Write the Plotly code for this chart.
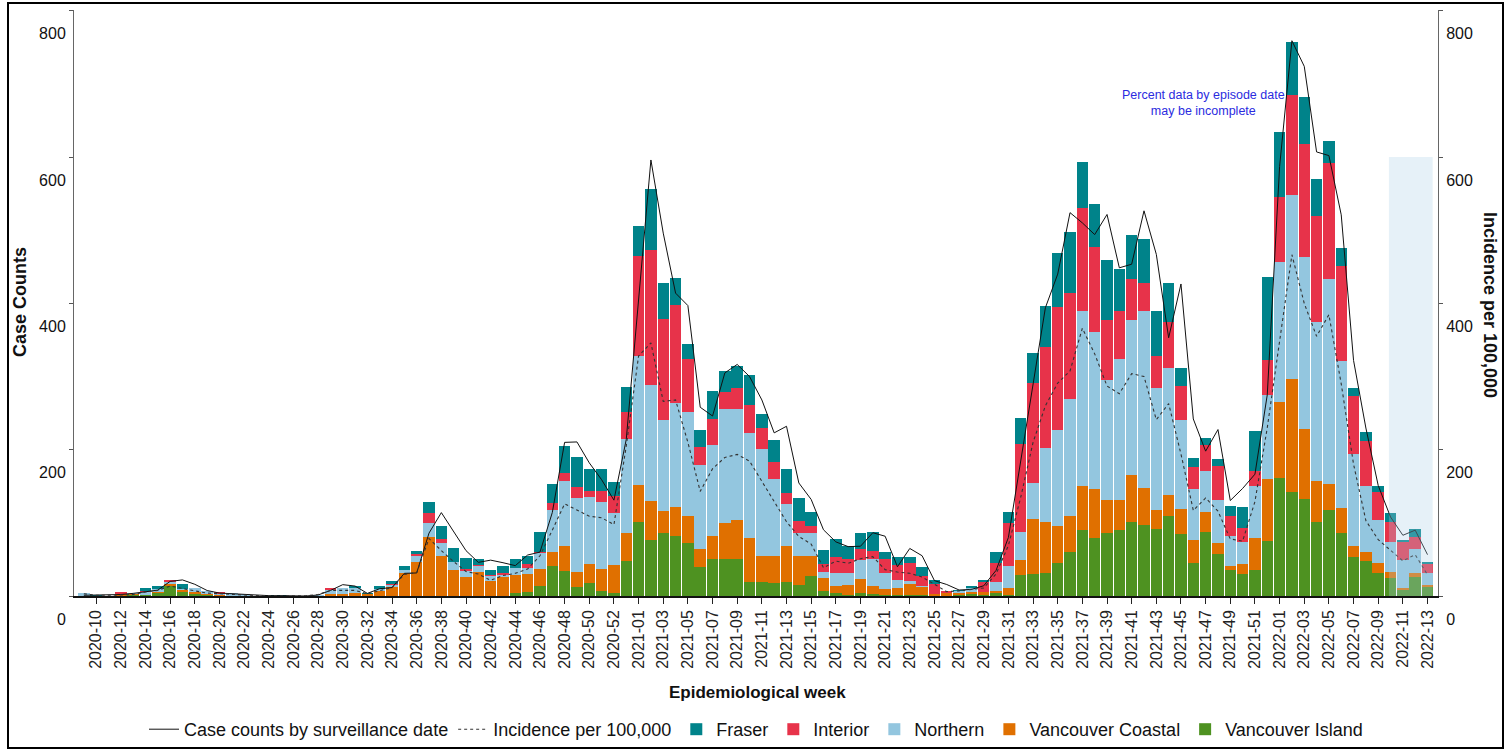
import plotly.graph_objects as go

# ---------------- data ----------------
weeks = ([f"2020-{w:02d}" for w in range(9, 54)] +
         [f"2021-{w:02d}" for w in range(1, 53)] +
         [f"2022-{w:02d}" for w in range(1, 14)])
tick_weeks = weeks[1::2]

vancouver_island = [0, 0, 0, 0, 2, 2, 5, 14, 5.5, 4, 2, 0, 0, 0, 0, 0, 0, 0, 0, 0,
                    0, 0, 0, 0, 0, 0, 0, 0, 0, 0, 0, 0, 0, 0, 0, 4.5, 5, 13.7, 41.5, 34,
                    12, 17.5, 7.5, 3.5, 47.7, 100.5, 77, 86.4, 81.4, 72.4, 39.7, 51, 51, 51, 19.6, 19.6, 18, 18.6, 15.5, 27,
                    7, 3.6, 2, 3.6, 3, 2, 1.5, 1.5, 1, 0, 0, 1, 2.5, 2, 3.6, 2, 29, 30, 32, 45,
                    60, 90, 79, 86.4, 90, 100.5, 96.5, 91.5, 109, 85, 45.2, 87.4, 57.8, 35.5, 30, 36, 75, 161.8, 141.7, 133,
                    101.5, 118, 86.4, 53.5, 48.5, 31.5, 24, 8, 26.3, 12.2]
vancouver_coastal = [0, 0, 0, 3, 1, 0, 1, 3, 3, 1, 1, 1, 0, 0, 0, 0, 0, 0, 0, 0,
                     3, 3, 4.5, 3, 8, 12, 31, 46, 81, 54, 36, 26, 33, 21, 26, 24.5, 25.5, 23.5, 18, 35,
                     21, 26, 30, 38.5, 38.7, 51, 53, 30, 40, 36.7, 25, 31, 49, 52.8, 60, 35, 36.5, 50, 38.5, 28,
                     17, 10.5, 13, 19, 10, 7, 10, 14.5, 12, 2.5, 4, 3, 3, 3.2, 3.7, 9, 20, 75.4, 69.3, 51,
                     49, 61, 66.8, 45, 41.7, 64.8, 51.8, 26.6, 28.6, 34, 32, 28, 15, 5, 13.6, 43.7, 85.4, 103, 154.8, 95,
                     55.3, 34.7, 33.7, 15.5, 11, 13.5, 8.8, 3.5, 5.3, 2.8]
northern = [4, 0, 0, 0, 1, 4, 3, 3, 1.5, 6, 4, 3, 4, 2, 0, 0, 0, 0, 0, 1,
            5, 8, 6.5, 0, 2, 3.5, 4.5, 9.5, 18.6, 18.6, 11, 9, 8, 6.4, 2.7, 9, 7.7, 22, 58, 88,
            101, 92, 91.5, 72, 128, 177, 158, 124, 143, 142, 114.6, 124.6, 155.8, 152, 143, 145.7, 105, 56.5, 32, 30.5,
            9, 17, 16, 27, 38, 22, 10, 4, 1, 0, 0, 3, 6, 0, 11.3, 29.5, 38.7, 49.7, 101.5, 130.6,
            160, 238, 215.6, 164.3, 192, 212.6, 240.7, 166.8, 173.4, 122, 69.3, 54.8, 58.8, 42, 30, 70.8, 114.6, 192, 252, 235,
            217.6, 280.4, 201, 125.6, 91.5, 58.5, 40.6, 37.5, 33, 16.2]
interior = [0, 0, 0, 2, 0, 1, 0, 2, 0, 0, 0, 1, 0, 0, 0, 0, 0, 0, 0, 0,
            3, 0, 0, 0, 0, 1, 0, 2, 13.6, 5.5, 0, 2, 2, 1, 2.7, 0, 5, 1, 9, 11.5,
            15.5, 7.5, 14, 22.5, 36.7, 136, 185, 138.7, 133, 73, 25, 35, 22.6, 28.6, 39, 30, 24, 16, 16.5, 10.5,
            11, 22.6, 20, 14, 11, 19, 20.4, 25, 14, 14, 3, 0, 0, 13.6, 26.4, 59, 120.6, 135.7, 138, 168,
            145, 142, 116, 82, 65.3, 55.3, 39.2, 43.7, 63.3, 46.2, 30, 36.7, 46.2, 27, 19, 20, 47.7, 88.4, 135.7, 154.3,
            145.7, 159.3, 130.6, 79.4, 60.3, 38.5, 27.8, 26, 16.5, 13]
fraser = [0, 1, 0, 0, 0, 4, 4, 0, 6, 0, 0, 0, 0, 0, 0, 1, 1, 0, 0, 0,
          0, 0, 3, 1, 3, 3.5, 6, 4.5, 15.5, 18, 18, 15.5, 8, 7, 9.5, 12, 12, 27, 26, 37,
          40, 30, 30, 19, 35, 41, 83, 48.7, 36.7, 20, 22.6, 39, 28.6, 30, 40, 19, 30, 33, 32, 19,
          19, 24, 18, 22, 25, 10, 11.3, 8, 12, 6, 0, 1, 2.5, 3, 15.5, 15, 35, 40.7, 55.8, 74.4,
          83, 62, 57.8, 82, 57.8, 60.3, 59.3, 60.8, 53.8, 24, 11.6, 8.5, 10, 13.5, 29.6, 54.8, 113, 89, 72.9, 64.3,
          50.3, 29, 24, 11, 12.6, 8, 12.8, 2, 10, 1.5]

case_counts_surveillance = [1, 1.4, 1, 2, 3.6, 5.5, 8, 20, 22, 16, 7.5, 4, 3, 2, 0.5, 0.5, 0.5, 0, 0, 1.4,
                            7.5, 15.5, 13.6, 3.6, 10, 11.5, 31, 31.5, 86, 114, 88, 62, 46, 49, 45.5, 41.5, 56, 60, 114, 210,
                            210.6, 182, 159, 131, 214, 405, 596, 496, 414, 397, 258, 246, 305, 316.5, 300, 268, 223, 232, 154.5, 132,
                            90.5, 74, 67.5, 68, 86.5, 81.7, 40, 65, 55, 21, 15.7, 8.2, 9, 14, 35, 80, 185, 290, 394, 440,
                            524, 510, 494, 521.5, 448.6, 453.5, 526.5, 467, 353, 426.5, 242, 198, 227.5, 130.5, 147, 166.5, 275, 587, 759, 724,
                            607, 602, 521, 322, 229.6, 151, 108, 83, 90, 56.5]
incidence_per_100k = [3, 1, 1, 1, 2, 5.5, 7.7, 13.6, 10, 7, 4, 3, 2.7, 1.4, 0.5, 0.5, 0.5, 0.3, 0.3, 2,
                      7.7, 7.7, 7.7, 3, 7.7, 11.5, 29.5, 32, 78.5, 62, 47, 33.5, 30, 21.5, 28, 31, 37, 55, 90, 126,
                      117.5, 109, 107, 97.5, 205, 328, 346, 266, 268, 210, 143, 174, 189.4, 193.5, 184.4, 157, 129, 101.5, 81.4, 71,
                      38.7, 47.7, 44.7, 51, 53.8, 36, 32.7, 31, 26, 16, 6, 7, 8.5, 11, 30, 69, 135, 210, 260, 291,
                      307.6, 366, 331, 287, 276.5, 304, 300, 241, 263, 194, 117, 134, 116, 78, 75, 129, 230, 350, 466.5, 400,
                      355, 384.5, 290, 180, 103, 77, 62.5, 48, 56.5, 29]

y_ticks = [0, 200, 400, 600, 800]

# ---------------- styling ----------------
FONT = "Arial, 'Liberation Sans', sans-serif"
colors = {
    "Vancouver Island": "#4E9221",
    "Vancouver Coastal": "#E07000",
    "Northern": "#93C6DF",
    "Interior": "#E7334A",
    "Fraser": "#00838A",
}
rank = {"Fraser": 3, "Interior": 4, "Northern": 5, "Vancouver Coastal": 6, "Vancouver Island": 7}

fig = go.Figure()
for name, vals in [("Vancouver Island", vancouver_island),
                   ("Vancouver Coastal", vancouver_coastal),
                   ("Northern", northern),
                   ("Interior", interior),
                   ("Fraser", fraser)]:
    fig.add_trace(go.Bar(x=weeks, y=vals, name=name, marker_color=colors[name],
                         marker_line_width=0, legendrank=rank[name]))

fig.add_trace(go.Scatter(x=weeks, y=case_counts_surveillance, mode="lines",
                         name="Case counts by surveillance date",
                         line=dict(color="#111111", width=1), legendrank=1))
fig.add_trace(go.Scatter(x=weeks, y=incidence_per_100k, mode="lines", yaxis="y2",
                         name="Incidence per 100,000",
                         line=dict(color="#333333", width=1.1, dash="dot"), legendrank=2))

L, R, T, B = 74, 71, 10, 155
W, H = 1509, 751
pw = W - L - R
ph = H - T - B

def px(xp):
    return (xp - L) / pw

def py(yp):
    return (H - B - yp) / ph

axis_common = dict(range=[0, 801], tickmode="array", tickvals=y_ticks,
                   ticks="outside", ticklen=4, tickcolor="#555555",
                   showline=True, linecolor="#666666", linewidth=1,
                   showgrid=False, zeroline=False, ticklabelshift=23,
                   tickfont=dict(family=FONT, size=16, color="#111111"))

fig.update_layout(
    width=W, height=H,
    margin=dict(l=L, r=R, t=T, b=B, autoexpand=False),
    paper_bgcolor="white", plot_bgcolor="white",
    barmode="stack", bargap=0.07,
    font=dict(family=FONT, size=16, color="#111111"),
    xaxis=dict(type="category", categoryorder="array", categoryarray=weeks,
               range=[-0.8, 109.85], tickmode="array", tickvals=tick_weeks,
               ticktext=tick_weeks, tickangle=-90, ticks="outside", ticklen=6,
               tickcolor="#222222", showline=True, linecolor="#111111", linewidth=1.5,
               showgrid=False, tickfont=dict(family=FONT, size=16, color="#222222")),
    yaxis=dict(**axis_common),
    yaxis2=dict(**axis_common, overlaying="y", side="right"),
    legend=dict(orientation="h", x=0.5, xanchor="center", y=py(711), yanchor="top",
                font=dict(family=FONT, size=18, color="#111111"), itemwidth=30,
                traceorder="normal", bgcolor="rgba(0,0,0,0)"),
    showlegend=True,
)

fig.add_shape(type="rect", xref="x", yref="y", x0=105.87, x1=109.42, y0=0, y1=600,
              fillcolor="rgb(172,208,232)", opacity=0.3, line_width=0, layer="above")

fig.add_shape(type="rect", xref="paper", yref="paper",
              x0=px(8), x1=px(1503), y0=py(748), y1=py(3),
              line=dict(color="black", width=2), fillcolor="rgba(0,0,0,0)", layer="above")

fig.add_annotation(xref="x", yref="y", x=90.8, y=674, xanchor="center", yanchor="middle",
                   text="Percent data by episode date<br>may be incomplete",
                   showarrow=False, font=dict(family=FONT, size=12.5, color="#2B2BE0"),
                   align="center")
fig.add_annotation(xref="paper", yref="paper", x=px(20), y=py(302),
                   xanchor="center", yanchor="middle",
                   text="<b>Case Counts</b>", textangle=-90, showarrow=False,
                   font=dict(family=FONT, size=18, color="#111111"))
fig.add_annotation(xref="paper", yref="paper", x=px(1490), y=py(305),
                   xanchor="center", yanchor="middle",
                   text="<b>Incidence per 100,000</b>", textangle=90, showarrow=False,
                   font=dict(family=FONT, size=18, color="#111111"))
fig.add_annotation(xref="paper", yref="paper", x=px(757), y=py(692),
                   xanchor="center", yanchor="middle",
                   text="<b>Epidemiological week</b>", showarrow=False,
                   font=dict(family=FONT, size=17, color="#111111"))

fig.write_html("out.html", config={"displayModeBar": False},
               post_script="document.body.style.margin='0';document.body.style.overflow='hidden';")
